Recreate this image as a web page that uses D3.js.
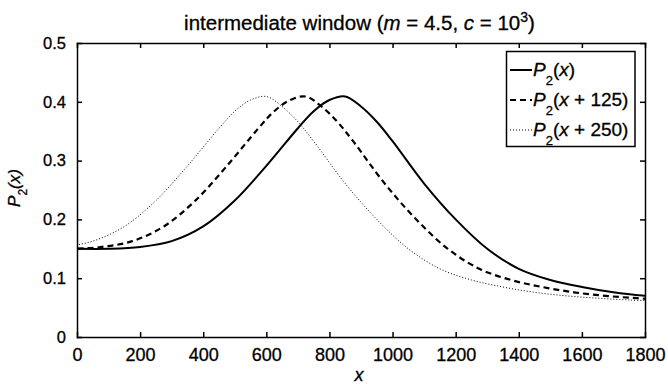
<!DOCTYPE html>
<html>
<head>
<meta charset="utf-8">
<script src="https://cdn.jsdelivr.net/npm/d3@7"></script>
<style>
  body { margin: 0; background: #fff; }
  text { font-family: "Liberation Sans", Arial, sans-serif; fill: #000; stroke: #000; stroke-width: 0.3px; }
</style>
</head>
<body>
<svg width="668" height="384"></svg>
<script>
// P2(x); the other two series are the same curve shifted left
var baseX = [0, 100, 200, 300, 400, 500, 600, 700, 750, 800, 850, 900, 950, 1000,
    1100, 1200, 1300, 1400, 1500, 1600, 1700, 1800, 1900, 2000, 2100];
var baseP2 = [0.150, 0.150, 0.153, 0.163, 0.188, 0.232, 0.291, 0.355, 0.384, 0.403, 0.409, 0.392, 0.366, 0.333,
    0.261, 0.200, 0.150, 0.116, 0.097, 0.085, 0.076, 0.070, 0.066, 0.063, 0.061];
var shifts = [0, 125, 250];
var seriesNames = ["(x)", "(x + 125)", "(x + 250)"];
var xTicks = [0, 200, 400, 600, 800, 1000, 1200, 1400, 1600, 1800];
var yTicks = [0, 0.1, 0.2, 0.3, 0.4, 0.5];
var yTickLabels = ["0", "0.1", "0.2", "0.3", "0.4", "0.5"];

var svg = d3.select("svg");
var plotLeft = 77, plotRight = 645, plotTop = 43, plotBottom = 337;

var x = d3.scaleLinear().domain([0, 1800]).range([plotLeft, plotRight]);
var y = d3.scaleLinear().domain([0, 0.5]).range([plotBottom, plotTop]);

var styles = [
    { width: 2, dash: null },
    { width: 2.2, dash: "6,4" },
    { width: 1, dash: "1,2" }
];

svg.append("clipPath").attr("id", "plot")
    .append("rect")
    .attr("x", plotLeft).attr("y", plotTop)
    .attr("width", plotRight - plotLeft).attr("height", plotBottom - plotTop);

var line = d3.line()
    .x(d => x(d[0]))
    .y(d => y(d[1]))
    .curve(d3.curveCatmullRom.alpha(0.5));

shifts.forEach(function(s, i) {
    var pts = baseX.map((bx, j) => [bx - s, baseP2[j]]);
    svg.append("path")
        .attr("clip-path", "url(#plot)")
        .attr("d", line(pts))
        .attr("fill", "none")
        .attr("stroke", "#000")
        .attr("stroke-width", styles[i].width)
        .attr("stroke-dasharray", styles[i].dash);
});

// axes, ticks pointing inward like matlab
function styleAxis(g) {
    g.selectAll("path, line").attr("stroke", "#000").attr("stroke-width", 1.5);
    g.selectAll("text").attr("fill", "#000");
    g.attr("font-family", null);
}

svg.append("g")
    .attr("transform", "translate(0," + plotBottom + ")")
    .call(d3.axisBottom(x).tickValues(xTicks).tickSize(-5).tickSizeOuter(0).tickPadding(11.5)
        .tickFormat(d => String(d)))
    .call(styleAxis)
    .attr("font-size", 18);

svg.append("g")
    .attr("transform", "translate(0," + plotTop + ")")
    .call(d3.axisTop(x).tickValues(xTicks).tickSize(-5).tickSizeOuter(0).tickFormat(""))
    .call(styleAxis);

svg.append("g")
    .attr("transform", "translate(" + plotLeft + ",0)")
    .call(d3.axisLeft(y).tickValues(yTicks).tickSize(-5).tickSizeOuter(0).tickPadding(11)
        .tickFormat((d, i) => yTickLabels[i]))
    .call(styleAxis)
    .attr("font-size", 16.5);

svg.append("g")
    .attr("transform", "translate(" + plotRight + ",0)")
    .call(d3.axisRight(y).tickValues(yTicks).tickSize(-5).tickSizeOuter(0).tickFormat(""))
    .call(styleAxis);

svg.selectAll(".domain").attr("stroke-linecap", "square");

// title
var title = svg.append("text")
    .attr("x", 359.5).attr("y", 30)
    .attr("text-anchor", "middle")
    .attr("font-size", 20.5);
title.append("tspan").text("intermediate window (");
title.append("tspan").attr("font-style", "italic").text("m");
title.append("tspan").text(" = 4.5, ");
title.append("tspan").attr("font-style", "italic").text("c");
title.append("tspan").text(" = 10");
title.append("tspan").attr("font-size", 14).attr("dy", -8).text("3");
title.append("tspan").attr("dy", 8).text(")");

// axis labels
svg.append("text")
    .attr("x", 359).attr("y", 381)
    .attr("text-anchor", "middle")
    .attr("font-size", 18)
    .attr("font-style", "italic")
    .text("x");

var yl = svg.append("text")
    .attr("transform", "translate(20,188) rotate(-90)")
    .attr("text-anchor", "middle")
    .attr("font-size", 17);
yl.append("tspan").attr("font-style", "italic").text("P");
yl.append("tspan").attr("font-size", 12).attr("dy", 7).text("2");
yl.append("tspan").attr("dy", -7).attr("font-style", "italic").text("(x)");

// legend
var legend = svg.append("g");
legend.append("rect")
    .attr("x", 506.5).attr("y", 51.5)
    .attr("width", 128.5).attr("height", 95)
    .attr("fill", "#fff")
    .attr("stroke", "#000")
    .attr("stroke-width", 1.5);

seriesNames.forEach(function(name, i) {
    var ly = 70 + i * 30;
    legend.append("line")
        .attr("x1", 510).attr("x2", 532)
        .attr("y1", ly).attr("y2", ly)
        .attr("stroke", "#000")
        .attr("stroke-width", styles[i].width)
        .attr("stroke-dasharray", styles[i].dash);
    var t = legend.append("text")
        .attr("x", 533).attr("y", ly + 6)
        .attr("font-size", 19);
    t.append("tspan").attr("font-style", "italic").text("P");
    t.append("tspan").attr("font-size", 13).attr("dy", 9).text("2");
    t.append("tspan").attr("dy", -9).text("(");
    t.append("tspan").attr("font-style", "italic").text("x");
    t.append("tspan").text(name.slice(2));
});
</script>
</body>
</html>
